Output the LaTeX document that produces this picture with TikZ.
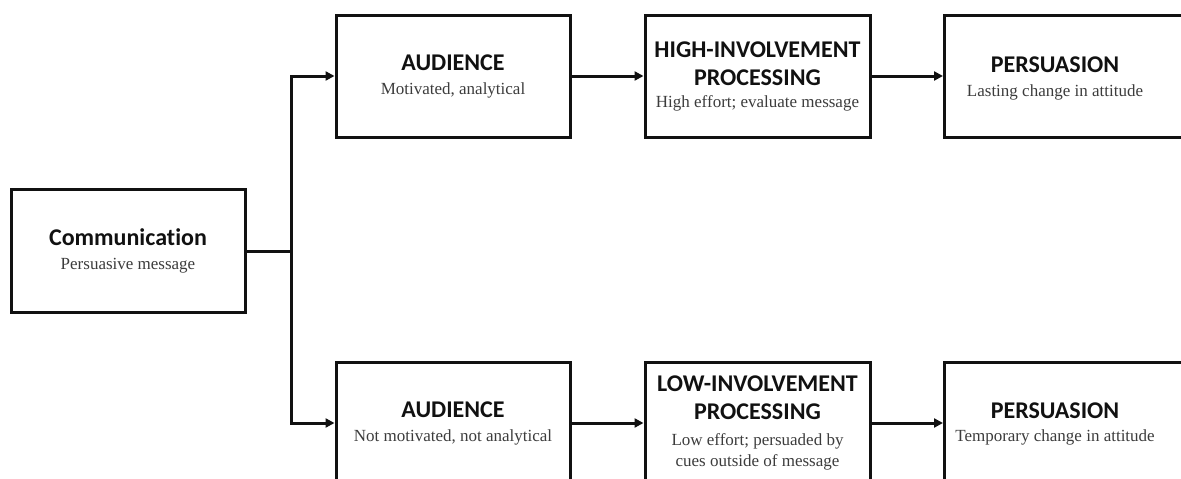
\documentclass[tikz,border=0pt]{standalone}
\usepackage{fontspec}
\setmainfont{Liberation Serif}
\newfontfamily\headfamily{Carlito}[Ligatures=CommonOff]
\usetikzlibrary{arrows.meta}
\definecolor{subgray}{HTML}{3C3C3C}
\definecolor{inkblack}{HTML}{111111}
% bold sans heading inside a box
\newcommand\boxhead[1]{{\headfamily\bfseries\fontsize{24}{28}\selectfont\color{inkblack}#1}}
\begin{document}
\begin{tikzpicture}[x=1pt,y=-1pt,
  box/.style={draw=inkblack, line width=3pt, line join=miter, minimum width=234pt,
    minimum height=122pt, inner sep=0pt, align=center, text=subgray,
    font=\fontsize{17}{21}\selectfont},
  openbox/.style={box, minimum width=280pt, anchor=west},
  label/.style={align=center, text=subgray, inner sep=0pt, font=\fontsize{17}{21}\selectfont},
  wire/.style={draw=inkblack, line width=3pt, line join=miter},
  link/.style={wire, -{Triangle[length=9pt,width=9pt]}}]
\clip (0,0) rectangle (1181,479);

% source
\node[box, minimum height=123pt] (comm) at (128,251)
  {\boxhead{Communication}\\[3pt] Persuasive message};

% upper path
\node[box] (aud1) at (453,76) {\boxhead{AUDIENCE}\\[3pt] Motivated, analytical};
\node[box, minimum width=225pt] (high) at (757.5,76)
  {\boxhead{HIGH-INVOLVEMENT}\\[7pt]\boxhead{PROCESSING}\\[1pt] High effort; evaluate message};
\node[openbox] (per1) at (943,76) {};
\node[label] (per1t) at (1055,78) {\boxhead{PERSUASION}\\[3pt] Lasting change in attitude};

% lower path
\node[box] (aud2) at (453,423) {\boxhead{AUDIENCE}\\[3pt] Not motivated, not analytical};
\node[box, minimum width=225pt] (low) at (757.5,423)
  {\boxhead{LOW-INVOLVEMENT}\\[7pt]\boxhead{PROCESSING}\\[5pt] Low effort; persuaded by\\ cues outside of message};
\node[openbox] (per2) at (943,423) {};
\node[label] (per2t) at (1055,424) {\boxhead{PERSUASION}\\[2pt] Temporary change in attitude};

% connectors
\coordinate (split) at (291,251);
\draw[wire] (comm.east) -- (split);
\draw[link] (split) |- (aud1.west);
\draw[link] (split) |- (aud2.west);
\draw[link] (aud1) -- (high);
\draw[link] (high) -- (per1);
\draw[link] (aud2) -- (low);
\draw[link] (low) -- (per2);
\end{tikzpicture}
\end{document}
